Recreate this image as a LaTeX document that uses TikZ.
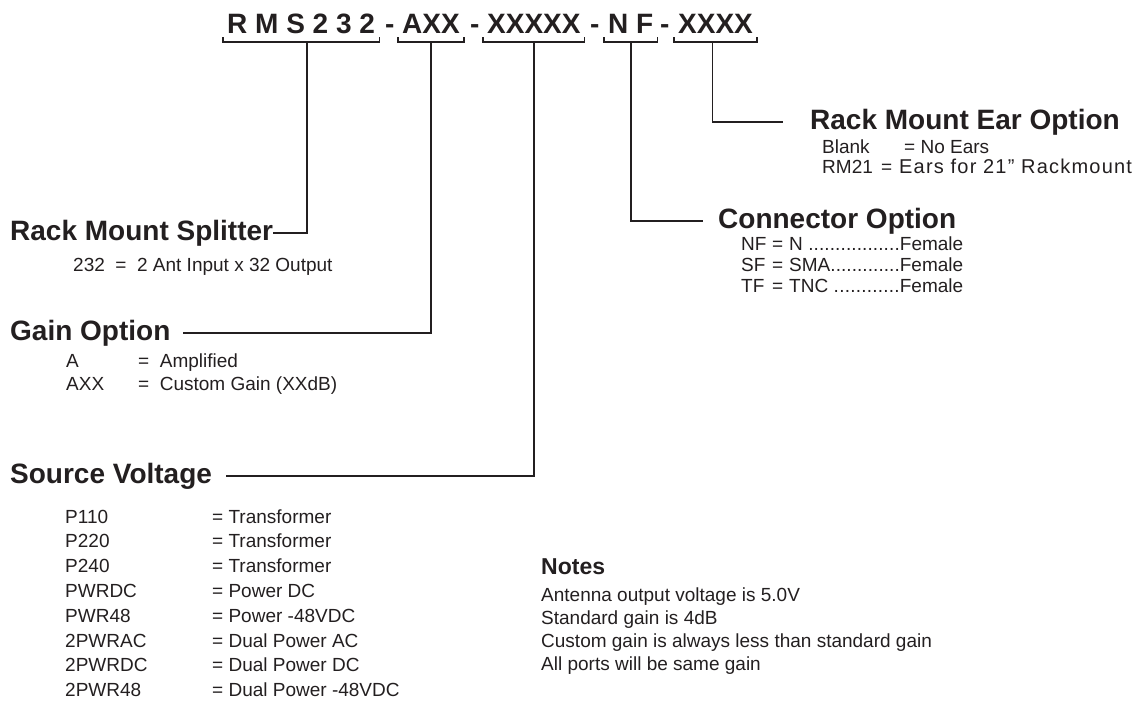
\documentclass[tikz,border=0pt]{standalone}
\usepackage{fontspec}
\setmainfont{Liberation Sans}
\usetikzlibrary{calc}
\definecolor{ink}{RGB}{35,31,32}
\newcommand\dotrun{\xleaders\hbox{.}\hfill}
\tikzset{
  code/.style={font=\fontsize{28}{28}\selectfont\bfseries, inner sep=0pt, anchor=base west},
  head/.style={font=\fontsize{28}{28}\selectfont\bfseries, inner sep=0pt, anchor=base west},
  note/.style={font=\fontsize{19}{19}\selectfont, inner sep=0pt, anchor=base west},
  brace/.style={line width=1.4pt},
  lead/.style={line width=1.8pt},
}
\begin{document}
\begin{tikzpicture}[x=1pt,y=-1pt,color=ink]
\useasboundingbox (0,0) rectangle (1148,702);
% part number
\node[code] (rms) at (227,33) {R M S 2 3 2};
\node[code] (d1)  at (385,33) {-};
\node[code] (axx) at (402,33) {AXX};
\node[code] (d2)  at (470,33) {-};
\node[code] (xv)  at (487,33) {XXXXX};
\node[code] (d3)  at (590,33) {-};
\node[code] (nf)  at (608,33) {N F};
\node[code] (d4)  at (660,33) {-};
\node[code] (xe)  at (678,33) {XXXX};
\foreach \seg in {rms,axx,xv,nf,xe}
  \draw[brace] ($(\seg.base west)+(-4,4)$) -- ++(0,5) -| ($(\seg.base east)+(4,4)$);
\coordinate (rms-s) at ($(rms.base)+(6,9)$);
\coordinate (axx-s) at ($(axx.base)+(0,9)$);
\coordinate (xv-s)  at ($(xv.base)+(0,9)$);
\coordinate (nf-s)  at ($(nf.base)+(0,9)$);
\coordinate (xe-s)  at ($(xe.base)+(-3,9)$);

% option headings
\node[head] (split) at (10,240)  {Rack Mount Splitter};
\node[head] (gain)  at (10,340)  {Gain Option};
\node[head] (volt)  at (10,483)  {Source Voltage};
\node[head] (conn)  at (718,228) {Connector Option};
\node[head] (ear)   at (810,129) {Rack Mount Ear Option};

\draw[lead] (rms-s) |- (split.east);
\draw[lead] (axx-s) |- ([xshift=12pt]gain.east);
\draw[lead] (xv-s)  |- ([xshift=14pt]volt.east);
\draw[lead] (nf-s)  |- ([xshift=-15pt]conn.west);
\draw[lead] (xe-s)  |- ([xshift=-27pt]ear.west);

% splitter
\node[note] (split-1) at (73,271) {232\ \ =\ \ 2 Ant Input x 32 Output};
% gain
\node[note] (gain-1)   at (66,367)  {A};
\node[note] (gain-1-v) at (138,367) {=\ \ Amplified};
\node[note] (gain-2)   at (66,390)  {AXX};
\node[note] (gain-2-v) at (138,390) {=\ \ Custom Gain (XXdB)};
% voltage
\foreach \tag/\desc [count=\i] in {P110/Transformer, P220/Transformer, P240/Transformer,
    PWRDC/Power DC, PWR48/Power -48VDC, 2PWRAC/Dual Power AC, 2PWRDC/Dual Power DC,
    2PWR48/Dual Power -48VDC}
{
  \node[note] (sv-\i)   at (65,498.2+24.8*\i)  {\tag};
  \node[note] (sv-\i-v) at (212,498.2+24.8*\i) {= \desc};
}
% connector
\foreach \tag/\desc [count=\i] in {NF/N \dotrun Female, SF/SMA\dotrun Female, TF/TNC \dotrun Female}
{
  \node[note] (cn-\i)   at (741,229+21*\i) {\tag};
  \node[note] (cn-\i-e) at (772,229+21*\i) {=};
  \node[note] (cn-\i-v) at (789,229+21*\i) {\makebox[174pt][l]{\desc}};
}
% ears
\node[note] (ear-1)   at (822,153) {Blank};
\node[note] (ear-1-v) at (904,153) {= No Ears};
\node[note] (ear-2)   at (822,173) {RM21};
\node[note] (ear-2-e) at (881,173) {=};
\node[note,font=\fontsize{20}{20}\selectfont\addfontfeature{LetterSpace=6}] (ear-2-v) at (899,173) {Ears for 21” Rackmount};

% notes
\node[note,font=\fontsize{23}{23}\selectfont\bfseries] (notes) at (541,574) {Notes};
\foreach \line [count=\i] in {Antenna output voltage is 5.0V, Standard gain is 4dB,
    Custom gain is always less than standard gain, All ports will be same gain}
  \node[note] (note-\i) at (541,578+23*\i) {\line};
\end{tikzpicture}
\end{document}
